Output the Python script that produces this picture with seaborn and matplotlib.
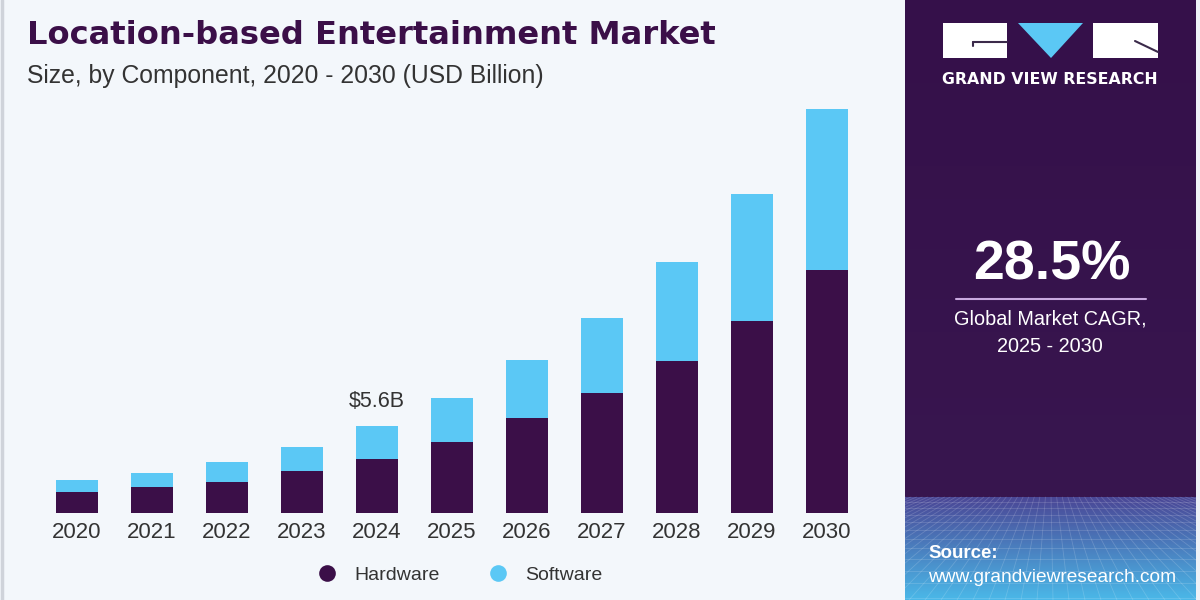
"""
Recreate the Grand View Research location-based entertainment market chart.

Stacked bars (hardware + software) per year, with a side panel
showing the CAGR figure and the source.
"""

import matplotlib.pyplot as plt
import numpy as np
import pandas as pd
import seaborn as sns
from matplotlib.lines import Line2D
from matplotlib.patches import Polygon, Rectangle

YEARS: list[str] = [
    "2020", "2021", "2022", "2023", "2024", "2025",
    "2026", "2027", "2028", "2029", "2030",
]
HARDWARE: list[float] = [
    1.34, 1.66, 2.00, 2.69, 3.49, 4.59,
    6.10, 7.71, 9.82, 12.38, 15.68,
]
SOFTWARE: list[float] = [
    0.77, 0.92, 1.27, 1.57, 2.11, 2.84,
    3.77, 4.91, 6.36, 8.25, 10.44,
]
SERIES_NAMES: list[str] = ["Hardware", "Software"]

LABELED_YEAR: str = "2024"
LABEL_TEXT: str = "$5.6B"
CAGR_TEXT: str = "28.5%"
CAGR_CAPTION: str = "Global Market CAGR,\n2025 - 2030"

TITLE: str = "Location-based Entertainment Market"
SUBTITLE: str = "Size, by Component, 2020 - 2030 (USD Billion)"

HARDWARE_COLOR: str = "#3b0f48"
SOFTWARE_COLOR: str = "#5bc8f5"
BACKGROUND_COLOR: str = "#f3f7fb"
TEXT_COLOR: str = "#333333"
TITLE_COLOR: str = "#3b0f48"

FIG_W, FIG_H = 1200, 600


def hex_rgb(color: str) -> np.ndarray:
    color = color.lstrip("#")
    return np.array([int(color[i:i + 2], 16) / 255 for i in (0, 2, 4)])


def draw_panel(fig) -> None:
    """Purple side panel with a blue gradient and grid at the bottom."""
    panel = fig.add_axes([905 / FIG_W, 0, 291 / FIG_W, 1])
    rows = np.zeros((FIG_H, 1, 3))
    top_a, top_b = hex_rgb("#35104a"), hex_rgb("#38164f")
    low_a, low_b = hex_rgb("#4a4796"), hex_rgb("#4ab9e9")
    split = 497
    for y in range(FIG_H):
        if y < split:
            t = y / split
            rows[y, 0] = top_a * (1 - t) + top_b * t
        else:
            t = (y - split) / (FIG_H - split)
            rows[y, 0] = low_a * (1 - t) + low_b * t
    panel.imshow(rows, aspect="auto", extent=(0, 291, FIG_H, 0))

    # faint perspective grid
    y, gap = split + 5, 6.0
    while y < FIG_H:
        panel.plot([0, 291], [y, y], color="white", alpha=0.16, lw=0.6)
        y += gap
        gap *= 1.1
    for x0 in np.arange(-300, 600, 16):
        panel.plot([145 + (x0 - 145) * 0.35, x0], [split, FIG_H],
                   color="white", alpha=0.16, lw=0.6)
    panel.set_xlim(0, 291)
    panel.set_ylim(FIG_H, 0)
    panel.axis("off")


def create_market_chart() -> None:
    sns.set_style("white")
    plt.rcParams["font.family"] = ["Liberation Sans", "DejaVu Sans"]

    frame = pd.DataFrame({
        "Year": YEARS,
        "Hardware": HARDWARE,
        "Software": SOFTWARE,
    })
    frame["Total"] = frame["Hardware"] + frame["Software"]

    fig = plt.figure(figsize=(FIG_W / 100, FIG_H / 100), dpi=100)
    fig.patch.set_facecolor(BACKGROUND_COLOR)

    draw_panel(fig)

    ax = fig.add_axes([32 / FIG_W, 87.3 / FIG_H, 840 / FIG_W, 433 / FIG_H])
    ax.set_facecolor("none")
    sns.barplot(data=frame, x="Year", y="Total", color=SOFTWARE_COLOR,
                saturation=1, width=0.57, linewidth=0, ax=ax)
    sns.barplot(data=frame, x="Year", y="Hardware", color=HARDWARE_COLOR,
                saturation=1, width=0.57, linewidth=0, ax=ax)
    ax.set_xlim(-0.6, len(YEARS) - 0.4)
    ax.set_ylim(0, 28)
    ax.set_xlabel("")
    ax.set_ylabel("")
    ax.set_yticks([])
    ax.tick_params(axis="x", length=0, pad=7, labelsize=16,
                   labelcolor=TEXT_COLOR)
    sns.despine(ax=ax, left=True, bottom=True)

    idx = YEARS.index(LABELED_YEAR)
    ax.annotate(LABEL_TEXT, xy=(idx, frame["Total"][idx]),
                xytext=(0, 10), textcoords="offset points",
                ha="center", va="bottom", fontsize=15.5, color=TEXT_COLOR)

    handles = [
        Line2D([], [], marker="o", linestyle="", markersize=12,
               markerfacecolor=HARDWARE_COLOR, markeredgecolor="none"),
        Line2D([], [], marker="o", linestyle="", markersize=12,
               markerfacecolor=SOFTWARE_COLOR, markeredgecolor="none"),
    ]
    fig.legend(handles, SERIES_NAMES, loc="center",
               bbox_to_anchor=(455 / FIG_W, 1 - 575 / FIG_H), ncol=2,
               frameon=False, fontsize=14, handletextpad=0.4,
               columnspacing=2.0, labelcolor=TEXT_COLOR)

    # overlay in pixel coordinates for text and logo
    over = fig.add_axes([0, 0, 1, 1])
    over.set_xlim(0, FIG_W)
    over.set_ylim(FIG_H, 0)
    over.axis("off")
    over.patch.set_alpha(0)

    over.plot([2, 2], [0, FIG_H], color="#cfd3da", lw=2.5)
    over.add_patch(Rectangle((1196, 0), 4, FIG_H, color="#eef2f7", lw=0))

    over.text(27, 44, TITLE, fontsize=23.1, fontweight="bold",
              family="DejaVu Sans", color=TITLE_COLOR, va="baseline")
    over.text(27, 76, SUBTITLE, fontsize=17.8, color=TEXT_COLOR,
              va="center")

    # logo
    over.add_patch(Rectangle((943, 23), 64, 35, color="white", lw=0))
    over.add_patch(Rectangle((1093, 23), 65, 35, color="white", lw=0))
    over.add_patch(Polygon([(1018, 23), (1083, 23), (1051, 58)],
                           closed=True, color=SOFTWARE_COLOR, lw=0))
    over.plot([973, 1007], [42, 42], color="#3b2a4a", lw=1.5)
    over.plot([973, 973], [42, 46], color="#3b2a4a", lw=1.5)
    over.plot([1135, 1158], [41, 52], color="#3b2a4a", lw=1.5)
    over.text(1050, 79, "GRAND VIEW RESEARCH", fontsize=11.3,
              fontweight="bold", family="DejaVu Sans", color="white",
              ha="center", va="center")

    over.text(1052, 266, CAGR_TEXT, fontsize=40, fontweight="bold",
              color="white", ha="center", va="center")
    over.plot([956, 1146], [299, 299], color="#c9a9e0", lw=1.5)
    over.text(1050, 333, CAGR_CAPTION, fontsize=14.3, color="white",
              ha="center", va="center", linespacing=1.6)

    over.text(928, 553, "Source:", fontsize=13.5, fontweight="bold",
              color="white", va="center")
    over.text(928, 577, "www.grandviewresearch.com", fontsize=13.8,
              color="white", va="center")

    fig.savefig("out.png", dpi=100, facecolor=fig.get_facecolor())


if __name__ == "__main__":
    create_market_chart()
